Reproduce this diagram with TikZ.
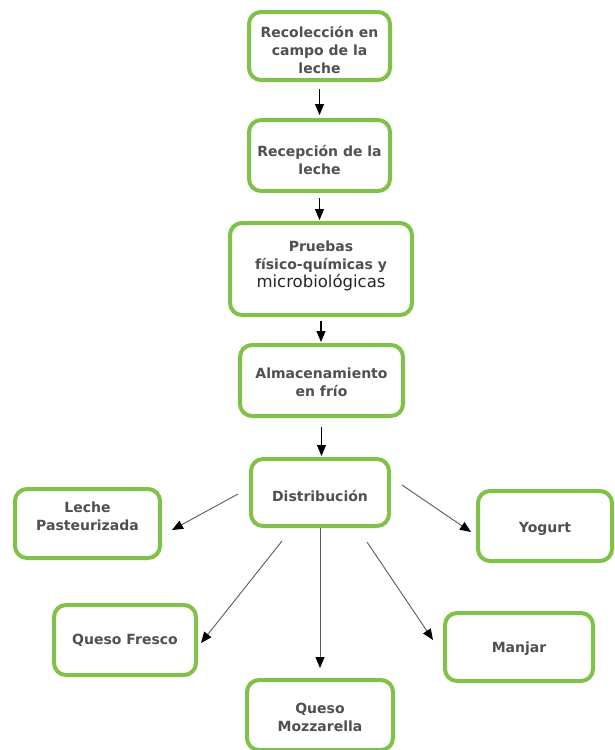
\documentclass[tikz,border=0pt]{standalone}
\usepackage{fontspec}
\setmainfont{DejaVu Sans}
\usetikzlibrary{arrows.meta,calc}
\definecolor{boxgreen}{RGB}{128,194,72}
\definecolor{txtgray}{RGB}{80,80,80}
\definecolor{linegray}{RGB}{90,90,90}
\begin{document}
\begin{tikzpicture}[x=1pt,y=-1pt,
  stepbox/.style={draw=boxgreen, line width=4pt, rounded corners=12pt, fill=white, inner sep=0pt},
  steptext/.style={align=center, text=txtgray, inner sep=0pt,
    font=\bfseries\fontsize{14}{18}\selectfont},
  vflow/.style={draw=black, line width=1.2pt, -{Triangle[length=11pt,width=9pt]}},
  branch/.style={draw=linegray, line width=0.9pt, -{Triangle[length=11pt,width=9pt,color=black,fill=black]}}]
\clip (0,0) rectangle (615,750);
\fill[white] (0,0) rectangle (615,750);

% main chain: frames
\node[stepbox, minimum width=141pt, minimum height=68pt] (rec) at (319.5,46) {};
\node[stepbox, minimum width=141pt, minimum height=71pt] (recep) at (319.5,155.5) {};
\node[stepbox, minimum width=182pt, minimum height=92pt] (pru) at (321,269) {};
\node[stepbox, minimum width=163pt, minimum height=71pt] (alm) at (321.5,380.5) {};
\node[stepbox, minimum width=138pt, minimum height=67pt] (dist) at (320,492.5) {};

% products: frames
\node[stepbox, minimum width=145pt, minimum height=69pt] (lp) at (87.5,523.5) {};
\node[stepbox, minimum width=134pt, minimum height=70pt] (yog) at (545,526) {};
\node[stepbox, minimum width=142pt, minimum height=70pt] (qf) at (125,640) {};
\node[stepbox, minimum width=148pt, minimum height=68pt] (man) at (519,647) {};
\node[stepbox, minimum width=146pt, minimum height=70pt] (moz) at (320,715) {};

% labels
\node[steptext] (recT) at ($(rec)+(0,4)$) {Recolección en\\campo de la\\leche};
\node[steptext] (recepT) at ($(recep)+(0,4)$) {Recepción de la\\leche};
\node[steptext] (pruT) at ($(pru)+(0,-3)$)
  {Pruebas\\físico-químicas y\\{\mdseries\color{black!85}\fontsize{16.5}{20}\selectfont microbiológicas}};
\node[steptext] (almT) at ($(alm)+(0,2)$) {Almacenamiento\\en frío};
\node[steptext] (distT) at ($(dist)+(0,3)$) {Distribución};
\node[steptext] (lpT) at ($(lp)+(0,-7)$) {Leche\\Pasteurizada};
\node[steptext] (yogT) at ($(yog)+(0,3)$) {Yogurt};
\node[steptext] (qfT) at (qf) {Queso Fresco};
\node[steptext] (manT) at ($(man)+(0,2)$) {Manjar};
\node[steptext] (mozT) at ($(moz)+(0,2)$) {Queso\\Mozzarella};

% vertical flow
\draw[vflow, shorten <=7pt, shorten >=3pt] (rec.south) -- (recep.north);
\draw[vflow, shorten <=5pt, shorten >=1pt] (recep.south) -- (recep.south |- pru.north);
\draw[vflow, shorten <=4pt, shorten >=1pt] (pru.south) -- (pru.south |- alm.north);
\draw[vflow, shorten <=9pt, shorten >=1pt] (alm.south) -- (alm.south |- dist.north);

% branches from distribution
\coordinate (dL) at ($(dist.west)+(-11,1.5)$);
\coordinate (tL) at ($(lp.east)+(10,6.5)$);
\coordinate (dR) at ($(dist.east)+(11,-7.5)$);
\coordinate (tR) at ($(yog.west)+(-5,6)$);
\coordinate (dQ) at ($(dist.south)+(-38,13)$);
\coordinate (tQ) at ($(qf.east)+(3,3)$);
\coordinate (dM) at ($(dist.south)+(47,14)$);
\coordinate (tM) at ($(man.west)+(-10,-7)$);
\coordinate (tZ) at ($(moz.north)+(0,-10)$);

\draw[branch] (dL) -- (tL);
\draw[branch] (dR) -- (tR);
\draw[branch] (dQ) -- (tQ);
\draw[branch] (dist.south) -- (tZ);
\draw[branch] (dM) -- (tM);
\end{tikzpicture}
\end{document}
